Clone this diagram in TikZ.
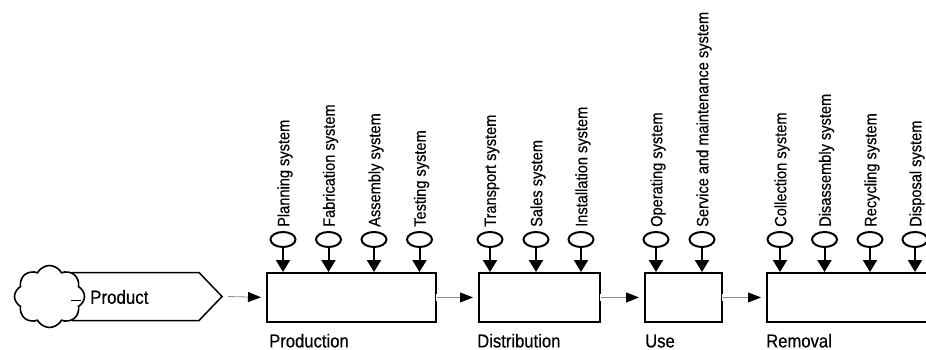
\documentclass[tikz,border=0pt]{standalone}
\usepackage{fontspec}
\setmainfont{Liberation Sans}[FakeStretch=0.89,FakeBold=0.4]
\usetikzlibrary{shapes.geometric,shapes.symbols,arrows.meta,calc}

\tikzset{
  stagebox/.style={draw=black, line width=1.9pt, fill=white, rectangle,
    minimum height=49pt, inner sep=0pt, anchor=north west},
  res/.style={draw=black, line width=2pt, ellipse, fill=white,
    minimum width=25pt, minimum height=15pt, inner sep=0pt},
  reslabel/.style={rotate=90, anchor=west, inner sep=0pt,
    font=\fontsize{16.4}{18}\selectfont},
  stagelabel/.style={anchor=base west, inner sep=0pt,
    font=\fontsize{18.7}{21}\selectfont},
  feed/.style={line width=2pt, -{Triangle[length=12pt,width=14pt]}},
  flow/.style={draw=black!45, line width=0.8pt, shorten >=5pt,
    -{Triangle[length=13pt,width=10pt,color=black]}},
  gapmark/.style={draw=white, line width=7pt}
}

\begin{document}
\begin{tikzpicture}[x=1pt, y=-1pt]
\useasboundingbox (0,0) rectangle (926,350);
\clip (0,0) rectangle (926,350);

% product pentagon and cloud source
\draw[line width=1.5pt, fill=white]
  (72,272.5) -- (199,272.5) -- (222,296.5) -- (199,320.5) -- (72,320.5);
\coordinate (ptip) at (222,296.5);
\node[cloud, cloud puffs=8, cloud puff arc=125, aspect=1.1, draw=black,
  fill=white, line width=1.6pt, minimum width=70pt, minimum height=62pt,
  inner sep=0pt] (cloud) at (49.5,296.5) {};
\draw[line width=0.8pt] ($(cloud.east)+(-14,4)$) coordinate (seamA) -- ($(cloud.east)+(-4,4)$) coordinate (seamB);
\node[anchor=west, inner sep=0pt, font=\fontsize{19}{21}\selectfont] (prodtxt) at (90,297) {Product};

% life-cycle stages
\node[stagebox, minimum width=169pt] (prod) at (266,272) {};
\node[stagebox, minimum width=121pt] (dist) at (478,272) {};
\node[stagebox, minimum width=77pt]  (use)  at (644,272) {};
\node[stagebox, minimum width=190pt] (rem)  at (766,272) {};

\node[stagelabel] (lprod) at ($(prod.south west)+(3,24.5)$) {Production};
\node[stagelabel] (ldist) at ($(dist.south west)+(-1,24.5)$) {Distribution};
\node[stagelabel] (luse)  at ($(use.south west)+(1,24.5)$) {Use};
\node[stagelabel] (lrem)  at ($(rem.south west)+(0,24.5)$) {Removal};

% flow between stages
\draw[gapmark] ($(prod.east)+(-1,0)$) coordinate (gp1) -- ($(prod.east)+(2,0)$) coordinate (gp2);
\draw[gapmark] ($(dist.east)+(-1,0)$) coordinate (gd1) -- ($(dist.east)+(2,0)$) coordinate (gd2);
\draw[gapmark] ($(use.east)+(-1,0)$) coordinate (gu1) -- ($(use.east)+(2,0)$) coordinate (gu2);
\draw[flow] ($(ptip)+(6,0)$) coordinate (pstart) -- (prod.west);
\draw[flow] (prod.east) -- (dist.west);
\draw[flow] (dist.east) -- (use.west);
\draw[flow] (use.east) -- (rem.west);

% supporting systems feeding each stage
\foreach \name/\x/\stage/\txt in {
  pl/283/prod/Planning system,
  fa/328.5/prod/Fabrication system,
  as/374/prod/Assembly system,
  te/419.5/prod/Testing system,
  tr/490/dist/Transport system,
  sa/536/dist/Sales system,
  in/581/dist/Installation system,
  op/656/use/Operating system,
  se/702/use/Service and maintenance system,
  co/780/rem/Collection system,
  di/824.5/rem/Disassembly system,
  re/870/rem/Recycling system,
  dp/915/rem/Disposal system}
{
  \node[res] (r\name) at (\x,239.5) {};
  \node[reslabel] (t\name) at ($(r\name.north)+(2,-4)$) {\txt};
  \draw[feed] (r\name.south) -- (r\name.south |- \stage.north);
}
\end{tikzpicture}
\end{document}
